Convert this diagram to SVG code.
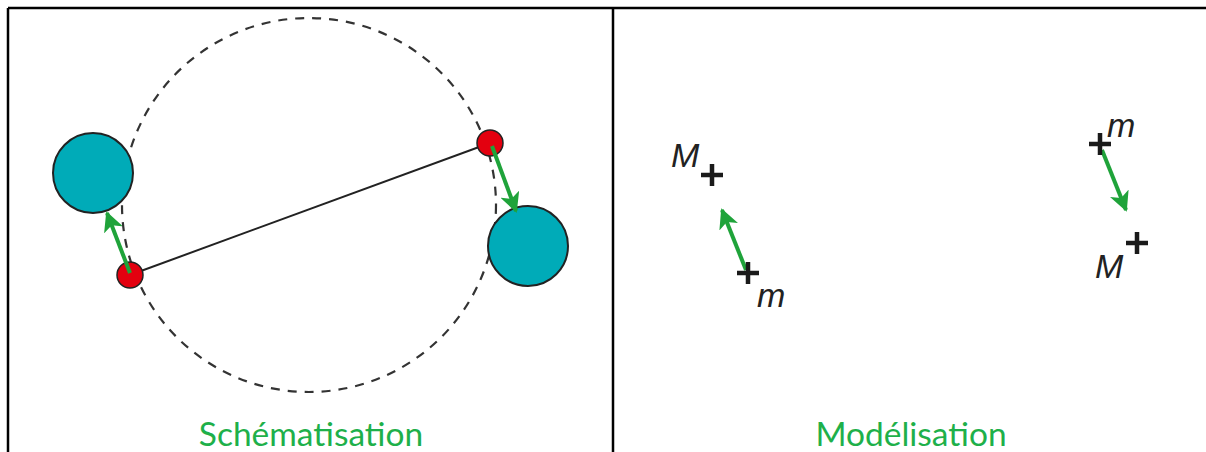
<svg xmlns="http://www.w3.org/2000/svg" width="1206" height="452" viewBox="0 0 1206 452">
<style>
.frame{stroke:#000;stroke-width:2.5;fill:none}
.orbit{stroke:#333;stroke-width:2.2;fill:none;stroke-dasharray:9 8}
.big{fill:#00abb8;stroke:#222;stroke-width:2}
.small{fill:#e3000f;stroke:#222;stroke-width:1.5}
.arrow{stroke:#1fa33a;stroke-width:4;fill:none}
.cross{stroke:#1a1a1a;stroke-width:4.5;fill:none}
.lbl{font-family:"Comic Sans MS","Lato","DejaVu Sans",sans-serif;font-size:33.5px;fill:#1eb04a;text-anchor:middle}
.var{font-family:"Liberation Sans",Arial,sans-serif;font-style:italic;font-size:34px;fill:#222}
</style>
<defs>
<marker id="ah" viewBox="0 0 10 10" refX="9" refY="5" markerWidth="5" markerHeight="5" orient="auto" markerUnits="strokeWidth">
<path d="M0,0 L10,5 L0,10 L2.5,5 Z" fill="#1fa33a"/>
</marker>
</defs>
<g id="frame">
<line class="frame" x1="8" y1="8" x2="1206" y2="8"/>
<line class="frame" x1="8" y1="8" x2="8" y2="452"/>
<line class="frame" x1="613" y1="8" x2="613" y2="452"/>
</g>
<g id="schema">
<circle id="orbit" class="orbit" cx="309" cy="205" r="187"/>
<line id="rod" x1="130" y1="275" x2="490" y2="143" stroke="#222" stroke-width="2"/>
<circle id="bigL" class="big" cx="93" cy="173" r="40"/>
<circle id="bigR" class="big" cx="528" cy="246" r="40"/>
<circle id="smallL" class="small" cx="130" cy="275" r="13"/>
<circle id="smallR" class="small" cx="490" cy="143" r="13"/>
</g>
<g id="connectors">
<line class="arrow" x1="130" y1="273" x2="107" y2="213" marker-end="url(#ah)"/>
<line class="arrow" x1="492" y1="146" x2="516" y2="211" marker-end="url(#ah)"/>
<line class="arrow" x1="746" y1="270" x2="722" y2="210" marker-end="url(#ah)"/>
<line class="arrow" x1="1102" y1="150" x2="1126" y2="210" marker-end="url(#ah)"/>
</g>
<g id="model">
<path class="cross" d="M701,175 H723 M712,164 V186"/>
<path class="cross" d="M737,273 H759 M748,262 V284"/>
<path class="cross" d="M1089,144 H1111 M1100,133 V155"/>
<path class="cross" d="M1126,243 H1148 M1137,232 V254"/>
<text class="var" x="671" y="167">M</text>
<text class="var" x="757" y="307">m</text>
<text class="var" x="1107" y="137">m</text>
<text class="var" x="1095" y="278">M</text>
</g>
<g id="labels">
<text class="lbl" x="311" y="446">Schématisation</text>
<text class="lbl" x="911" y="446">Modélisation</text>
</g>
</svg>
